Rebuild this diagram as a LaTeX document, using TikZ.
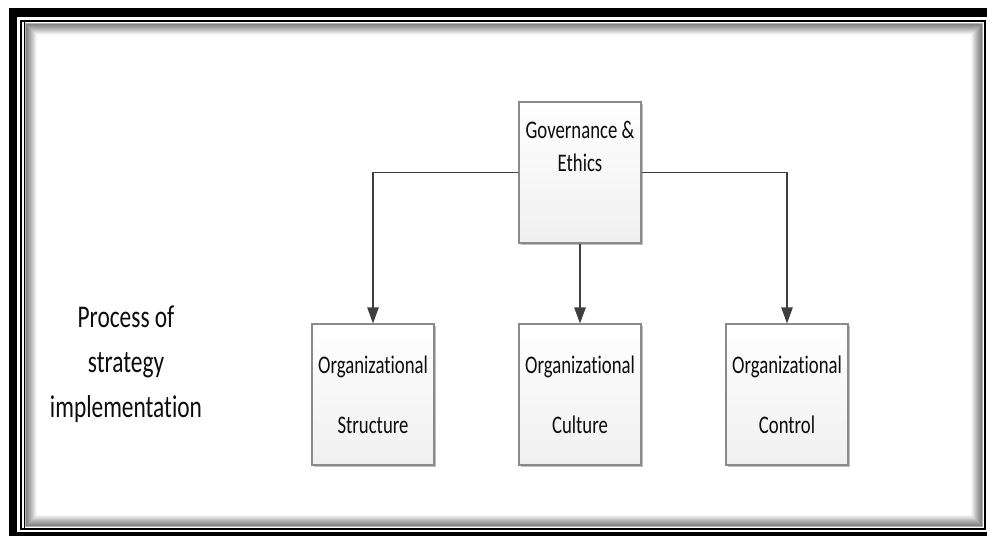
\documentclass[tikz,border=0pt]{standalone}
\usepackage{graphicx}
\usepackage{fontspec}
\setmainfont{Carlito}[Ligatures={NoCommon}]
\usetikzlibrary{arrows.meta,shadows}
\newcommand\narrow[1]{\scalebox{0.74}[1]{#1}}
\definecolor{edgegray}{HTML}{8A8A8A}
\definecolor{linkgray}{HTML}{3F3F3F}
\tikzset{
  box/.style={draw=edgegray, line width=0.8pt, top color=white, bottom color=black!6,
    minimum width=91.5pt, minimum height=105.75pt, inner sep=0pt,
    drop shadow={shadow xshift=1.2pt, shadow yshift=-1.2pt, opacity=0.25, fill=black}},
  boxtext/.style={anchor=base, inner sep=0pt, font=\fontsize{19}{22}\selectfont, text=black!95},
  sidetext/.style={anchor=base, inner sep=0pt, font=\fontsize{23.7}{28}\selectfont, text=black!95},
  link/.style={draw=linkgray, line width=1pt, -{Triangle[length=12pt,width=8.5pt]}},
}
\begin{document}
\begin{tikzpicture}[x=0.75pt,y=-0.75pt]
  \useasboundingbox (0,0) rectangle (987,535);
  \clip (0,0) rectangle (987,535);
  \fill[white] (0,0) rectangle (987,535);
  % heavy outer frame
  \fill[black] (9,8) rectangle (1000,560);
  \fill[white] (17,17) rectangle (992,532);
  % inner frame with soft inner shadow
  \draw[black, line width=1.5pt] (21,21) rectangle (985,529);
  \draw[black, line width=0.8pt] (24.5,22) -- (24.5,528);
  \foreach \i in {1,...,11}{
    \pgfmathsetmacro\op{0.32*(1-\i/12)}
    \draw[black, opacity=\op, line width=0.8pt] (25+\i,23+\i) rectangle (983-\i,527-\i);
  }

  % boxes
  \node[box] (gov) at (580,172.5) {};
  \node[box] (str) at (373,394.5) {};
  \node[box] (cul) at (580,394.5) {};
  \node[box] (ctl) at (787,394.5) {};

  % box labels
  \node[boxtext] (gov1) at (580,138) {\narrow{Governance \&}};
  \node[boxtext] (gov2) at (580,171) {\narrow{Ethics}};
  \node[boxtext] (str1) at (373,373) {\narrow{Organizational}};
  \node[boxtext] (str2) at (373,433) {\narrow{Structure}};
  \node[boxtext] (cul1) at (580,373) {\narrow{Organizational}};
  \node[boxtext] (cul2) at (580,433) {\narrow{Culture}};
  \node[boxtext] (ctl1) at (787,373) {\narrow{Organizational}};
  \node[boxtext] (ctl2) at (787,433) {\narrow{Control}};

  % side title
  \node[sidetext] (t1) at (126,327) {\narrow{Process of}};
  \node[sidetext] (t2) at (126,372) {\narrow{strategy}};
  \node[sidetext] (t3) at (126,417) {\narrow{implementation}};

  % connectors
  \draw[link] (gov.west) -| (str.north);
  \draw[link] (gov.south) -- (cul.north);
  \draw[link] (gov.east) -| (ctl.north);
\end{tikzpicture}
\end{document}
